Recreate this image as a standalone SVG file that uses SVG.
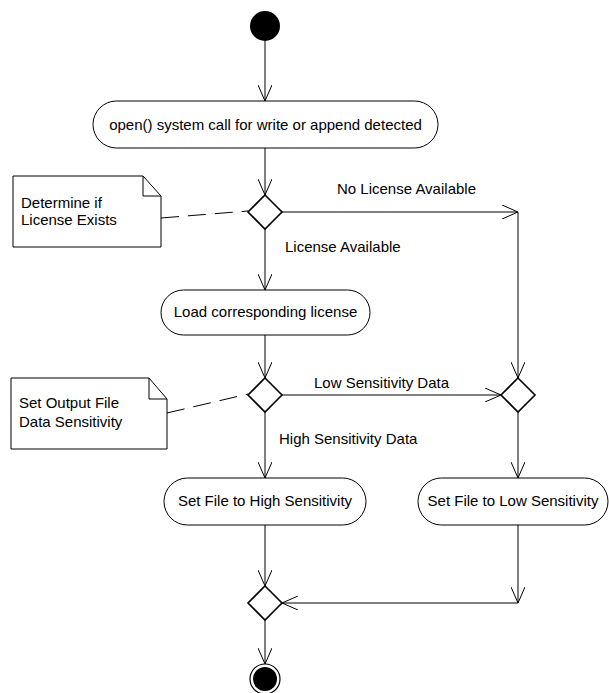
<svg xmlns="http://www.w3.org/2000/svg" width="609" height="693" viewBox="0 0 609 693">
<style>
text{font-family:"Liberation Sans",Arial,sans-serif;font-size:15px;fill:#000}
.act{fill:#fff;stroke:#000;stroke-width:1}
.dia{fill:#fff;stroke:#000;stroke-width:1.6}
.note{fill:#fff;stroke:#000;stroke-width:1}
.ln{fill:none;stroke:#000;stroke-width:1}
.dash{fill:none;stroke:#000;stroke-width:1;stroke-dasharray:18,9}
.c{text-anchor:middle}
</style>
<defs>
<marker id="arr" viewBox="0 0 16 14" refX="16" refY="7" markerWidth="16" markerHeight="14" markerUnits="userSpaceOnUse" orient="auto">
<path d="M0,0 L16,7 L0,14" fill="none" stroke="#000" stroke-width="1"/>
</marker>
</defs>
<rect width="609" height="693" fill="#fff"/>
<g id="connectors">
<line class="ln" x1="265" y1="41" x2="265" y2="101" marker-end="url(#arr)"/>
<line class="ln" x1="265" y1="148" x2="265" y2="195" marker-end="url(#arr)"/>
<line class="ln" x1="282" y1="212" x2="518" y2="212" marker-end="url(#arr)"/>
<line class="ln" x1="518" y1="212" x2="518" y2="378" marker-end="url(#arr)"/>
<line class="ln" x1="265" y1="229" x2="265" y2="290" marker-end="url(#arr)"/>
<line class="ln" x1="265" y1="335" x2="265" y2="378" marker-end="url(#arr)"/>
<line class="ln" x1="282" y1="395" x2="501" y2="395" marker-end="url(#arr)"/>
<line class="ln" x1="265" y1="412" x2="265" y2="478" marker-end="url(#arr)"/>
<line class="ln" x1="518" y1="412" x2="518" y2="478" marker-end="url(#arr)"/>
<line class="ln" x1="265" y1="525" x2="265" y2="586" marker-end="url(#arr)"/>
<line class="ln" x1="518" y1="525" x2="518" y2="603" marker-end="url(#arr)"/>
<line class="ln" x1="518" y1="603" x2="282" y2="603" marker-end="url(#arr)"/>
<line class="ln" x1="265" y1="620" x2="265" y2="664" marker-end="url(#arr)"/>
<line class="dash" x1="161" y1="218" x2="248" y2="211"/>
<line class="dash" x1="167" y1="413" x2="248" y2="394"/>
<text x="337" y="194">No License Available</text>
<text x="285" y="252">License Available</text>
<text x="314" y="388">Low Sensitivity Data</text>
<text x="279" y="444">High Sensitivity Data</text>
</g>
<g id="start"><circle cx="265" cy="26" r="15" fill="#000"/></g>
<g id="act1"><rect class="act" x="93" y="101" width="345" height="47" rx="23.5"/><text class="c" x="265.5" y="130">open() system call for write or append detected</text></g>
<g id="dec1"><polygon class="dia" points="265,195 282,212 265,229 248,212"/></g>
<g id="note1"><path class="note" d="M13,176 L143,176 L161,196 L161,247 L13,247 Z"/><path class="ln" d="M143,176 L143,196 L161,196"/><text x="21" y="208">Determine if</text><text x="21" y="225">License Exists</text></g>
<g id="act2"><rect class="act" x="161" y="290" width="209" height="45" rx="22.5"/><text class="c" x="265.5" y="317">Load corresponding license</text></g>
<g id="dec2"><polygon class="dia" points="265,378 282,395 265,412 248,395"/></g>
<g id="note2"><path class="note" d="M11,378 L149,378 L167,399 L167,449 L11,449 Z"/><path class="ln" d="M149,378 L149,399 L167,399"/><text x="19" y="408">Set Output File</text><text x="19" y="427">Data Sensitivity</text></g>
<g id="dec3"><polygon class="dia" points="518,378 535,395 518,412 501,395"/></g>
<g id="act3"><rect class="act" x="164" y="478" width="202" height="47" rx="23.5"/><text class="c" x="265" y="506">Set File to High Sensitivity</text></g>
<g id="act4"><rect class="act" x="418" y="478" width="190" height="47" rx="23.5"/><text class="c" x="513" y="506">Set File to Low Sensitivity</text></g>
<g id="merge"><polygon class="dia" points="265,586 282,603 265,620 248,603"/></g>
<g id="end"><circle cx="265" cy="679" r="15" fill="#fff" stroke="#000" stroke-width="1.2"/><circle cx="265" cy="679" r="12" fill="#000"/></g>
</svg>
